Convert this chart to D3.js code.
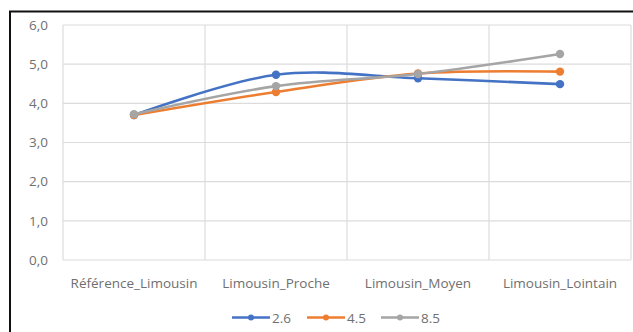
<!DOCTYPE html>
<html>
<head>
<meta charset="utf-8">
<script src="https://cdn.jsdelivr.net/npm/d3@7"></script>
<style>
  html, body { margin: 0; padding: 0; background: #fff; }
  svg { display: block; }
  text { font-family: "Open Sans", "DejaVu Sans", sans-serif; fill: #707070; }
</style>
</head>
<body>
<svg id="chart" width="633" height="332"></svg>
<script>
// Categories along the x axis
const categories = ["Référence_Limousin", "Limousin_Proche", "Limousin_Moyen", "Limousin_Lointain"];
// Series (scenario names) and their values per category
const seriesNames = ["2.6", "4.5", "8.5"];
const values26 = [3.70, 4.73, 4.64, 4.49];
const values45 = [3.70, 4.29, 4.76, 4.81];
const values85 = [3.72, 4.44, 4.75, 5.26];
const seriesColors = ["#4472C4", "#ED7D31", "#A5A5A5"];
const yTicks = [0, 1, 2, 3, 4, 5, 6];

const series = [values26, values45, values85].map((v, i) => ({
  name: seriesNames[i], values: v, color: seriesColors[i]
}));

const svg = d3.select("#chart");
const plotLeft = 63, plotRight = 631, plotTop = 25, plotBottom = 260;
const fontSize = 13.5;

// Outer frame (top and left edges visible)
svg.append("path")
  .attr("d", "M10,640 L10,11.5 L700,11.5")
  .attr("fill", "none").attr("stroke", "#111").attr("stroke-width", 2);

const x = d3.scaleBand().domain(categories).range([plotLeft, plotRight]);
const y = d3.scaleLinear().domain([0, 6]).range([plotBottom, plotTop]);

// Horizontal gridlines
svg.append("g").selectAll("line").data(yTicks).join("line")
  .attr("x1", plotLeft).attr("x2", plotRight)
  .attr("y1", d => y(d)).attr("y2", d => y(d))
  .attr("stroke", "#dcdcdc").attr("stroke-width", 1.2);

// Vertical gridlines at category boundaries
const bounds = categories.map(c => x(c)).concat([plotRight]);
svg.append("g").selectAll("line").data(bounds).join("line")
  .attr("x1", d => d).attr("x2", d => d)
  .attr("y1", plotTop).attr("y2", plotBottom)
  .attr("stroke", "#dcdcdc").attr("stroke-width", 1.2);

// Y axis labels
const yAxis = d3.axisLeft(y).tickValues(yTicks)
  .tickFormat(d => d3.format(".1f")(d).replace(".", ","))
  .tickSize(0).tickPadding(15);
const gy = svg.append("g").attr("transform", `translate(${plotLeft},0)`).call(yAxis);
gy.select(".domain").remove();
gy.selectAll("text").attr("font-size", fontSize).attr("fill", "#707070")
  .style("font-family", "'Open Sans', sans-serif");

// X axis labels
const xAxis = d3.axisBottom(x).tickSize(0).tickPadding(18);
const gx = svg.append("g").attr("transform", `translate(0,${plotBottom})`).call(xAxis);
gx.select(".domain").remove();
gx.selectAll("text").attr("font-size", fontSize).attr("fill", "#707070")
  .style("font-family", "'Open Sans', sans-serif");

// Smoothed series lines
const line = d3.line()
  .x((d, i) => x(categories[i]) + x.bandwidth() / 2)
  .y(d => y(d))
  .curve(d3.curveCatmullRom.alpha(0));

const gs = svg.append("g");
series.forEach(s => {
  gs.append("path").datum(s.values)
    .attr("d", line).attr("fill", "none")
    .attr("stroke", s.color).attr("stroke-width", 2.6)
    .attr("stroke-linecap", "round");
});
series.forEach(s => {
  gs.append("g").selectAll("circle").data(s.values).join("circle")
    .attr("cx", (d, i) => x(categories[i]) + x.bandwidth() / 2)
    .attr("cy", d => y(d)).attr("r", 4.2)
    .attr("fill", s.color);
});

// Legend
const legendX = [232, 307, 381];
const legendY = 317.5;
const lg = svg.append("g");
series.forEach((s, i) => {
  const g = lg.append("g").attr("transform", `translate(${legendX[i]},${legendY})`);
  g.append("line").attr("x1", 0).attr("x2", 38).attr("y1", 0).attr("y2", 0)
    .attr("stroke", s.color).attr("stroke-width", 2.6);
  g.append("circle").attr("cx", 19).attr("cy", 0).attr("r", 3).attr("fill", s.color);
  g.append("text").attr("x", 40).attr("y", 5).attr("font-size", fontSize).text(s.name);
});
</script>
</body>
</html>
